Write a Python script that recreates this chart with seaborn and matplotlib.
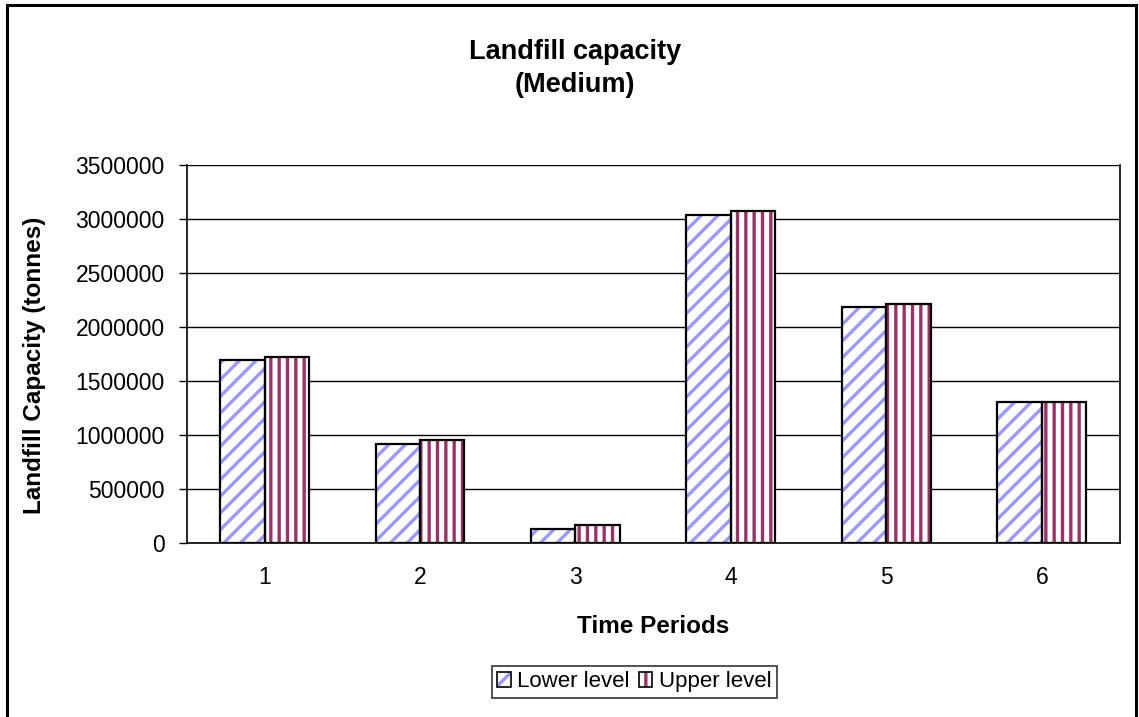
import matplotlib
matplotlib.use("Agg")
import matplotlib.pyplot as plt
from matplotlib.patches import Rectangle
from matplotlib.legend_handler import HandlerBase
import seaborn as sns
import pandas as pd

# Landfill capacity per time period (tonnes)
periods = ["1", "2", "3", "4", "5", "6"]
lower_level = [1690000, 918000, 125000, 3038000, 2180000, 1300000]
upper_level = [1720000, 950000, 160000, 3075000, 2215000, 1300000]
series_names = ["Lower level", "Upper level"]
y_ticks = [0, 500000, 1000000, 1500000, 2000000, 2500000, 3000000, 3500000]

hatch_colors = {"Lower level": "#9999FF", "Upper level": "#993366"}
hatch_styles = {"Lower level": "//", "Upper level": "||"}

df = pd.DataFrame({
    "period": periods * 2,
    "series": [series_names[0]] * len(periods) + [series_names[1]] * len(periods),
    "capacity": lower_level + upper_level,
})

sns.set_theme(style="white")
plt.rcParams["font.family"] = ["Liberation Sans", "DejaVu Sans"]
plt.rcParams["hatch.linewidth"] = 2.4
for key in ["text.color", "axes.labelcolor", "xtick.color", "ytick.color"]:
    plt.rcParams[key] = "black"

fig = plt.figure(figsize=(11.39, 7.17), dpi=100)
ax = fig.add_axes([0.164, 0.243, 0.819, 0.527])

sns.barplot(data=df, x="period", y="capacity", hue="series", order=periods,
            hue_order=series_names, palette=["white", "white"], width=0.572,
            gap=0, ax=ax, legend=False, errorbar=None, saturation=1)

# Each container holds one series; hatch it, then outline in black
for name, container in zip(series_names, ax.containers):
    for bar in container:
        bar.set_hatch(hatch_styles[name])
        bar.set_edgecolor(hatch_colors[name])
        bar.set_linewidth(0)
        ax.add_patch(Rectangle(bar.get_xy(), bar.get_width(), bar.get_height(),
                               fill=False, edgecolor="black", linewidth=1.6,
                               zorder=bar.get_zorder() + 0.1))

ax.set_ylim(0, 3500000)
ax.set_xlim(-0.5, len(periods) - 0.5)
ax.set_yticks(y_ticks)
ax.set_yticklabels([str(v) for v in y_ticks])
ax.yaxis.grid(True, color="black", linewidth=1.0)
ax.set_axisbelow(True)

for side in ["left", "bottom", "right"]:
    ax.spines[side].set_color("black")
    ax.spines[side].set_linewidth(1.2)
ax.spines["top"].set_visible(False)

# Tick marks between categories, labels at category centres
ax.set_xticks([i - 0.5 for i in range(len(periods) + 1)], minor=True)
ax.tick_params(axis="x", which="minor", length=7, width=1, color="black", direction="out")
ax.tick_params(axis="x", which="major", length=0, labelsize=16.5, pad=17)
ax.tick_params(axis="y", which="major", length=6, width=1, color="black",
               direction="out", left=True, labelsize=16.5, pad=10)

ax.set_xlabel("Time Periods", fontsize=17.5, fontweight="bold")
ax.set_ylabel("Landfill Capacity (tonnes)", fontsize=17.5, fontweight="bold")
ax.xaxis.set_label_coords(0.5, -0.19)
ax.yaxis.set_label_coords(-0.151, 0.47)

fig.text(0.505, 0.905, "Landfill capacity\n(Medium)", ha="center", va="center",
         fontsize=19.5, fontweight="bold", linespacing=1.35)


class HatchedSwatch(HandlerBase):
    """Legend key: hatched square with a black outline."""

    def __init__(self, hatch, color):
        super().__init__()
        self.hatch = hatch
        self.color = color

    def create_artists(self, legend, orig_handle, xdescent, ydescent,
                       width, height, fontsize, trans):
        fill = Rectangle((-xdescent, -ydescent), width, height, facecolor="white",
                         edgecolor=self.color, hatch=self.hatch, linewidth=0,
                         transform=trans)
        outline = Rectangle((-xdescent, -ydescent), width, height, fill=False,
                            edgecolor="black", linewidth=1.2, transform=trans)
        return [fill, outline]


handles = [Rectangle((0, 0), 1, 1) for _ in series_names]
handler_map = {h: HatchedSwatch(hatch_styles[n], hatch_colors[n])
               for h, n in zip(handles, series_names)}
leg = fig.legend(handles, series_names, handler_map=handler_map, loc="center",
                 bbox_to_anchor=(0.557, 0.049), ncol=2, fontsize=16,
                 frameon=True, fancybox=False, handlelength=0.6, handleheight=0.6,
                 handletextpad=0.3, columnspacing=0.4, borderpad=0.25,
                 edgecolor="black")
leg.get_frame().set_linewidth(1.2)

# Outer chart border
fig.add_artist(Rectangle((7 / 1139, -0.02), 1129 / 1139, 1.0 - 5 / 717 + 0.02,
                         transform=fig.transFigure, fill=False, edgecolor="black",
                         linewidth=2.2, clip_on=False))

fig.savefig("out.png", dpi=100)
